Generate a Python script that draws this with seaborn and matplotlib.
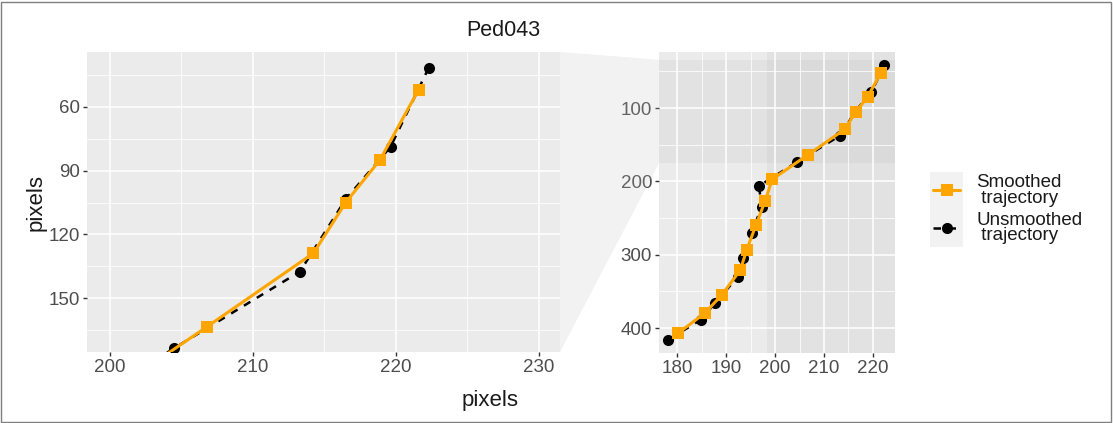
import matplotlib
matplotlib.use("Agg")
import matplotlib.pyplot as plt
from matplotlib.ticker import FixedLocator
from matplotlib.patches import Polygon, Rectangle
from matplotlib.lines import Line2D
import seaborn as sns
import pandas as pd

# ---- data ----
smooth_x = [221.6, 218.9, 216.5, 214.25, 206.8, 199.4, 198.0, 196.1, 194.2, 192.9, 189.1, 185.6, 180.1]
smooth_y = [52.0, 85.0, 105.0, 128.8, 163.4, 197.3, 226.5, 259.6, 293.7, 321.0, 355.0, 380.0, 407.4]
raw_x = [222.3, 219.65, 216.5, 213.3, 204.5, 196.7, 197.3, 195.2, 193.5, 192.4, 187.8, 184.8, 178.2]
raw_y = [41.8, 78.7, 103.5, 137.5, 173.5, 206.4, 234.6, 270.0, 305.0, 330.0, 365.6, 389.0, 415.6]
title = "Ped043"
legend_labels = ["Smoothed\n trajectory", "Unsmoothed\n trajectory"]
zoom_xlim = (198.4, 231.5)
zoom_ylim = (34.2, 175.3)
main_xlim = (176.3, 224.5)
main_ylim = (23.6, 434.0)

smooth = pd.DataFrame({"x": smooth_x, "y": smooth_y})
raw = pd.DataFrame({"x": raw_x, "y": raw_y})

sns.set_theme(style="white")
plt.rcParams["font.family"] = ["Liberation Sans", "DejaVu Sans"]

W, H = 1113, 423
fig = plt.figure(figsize=(W / 100, H / 100), dpi=100)
fig.patch.set_facecolor("white")

def px_axes(l, t, r, b):
    return fig.add_axes([l / W, 1 - b / H, (r - l) / W, (b - t) / H])

ax_z = px_axes(87, 52, 560, 352)
ax_m = px_axes(659, 52, 895, 353)

ORANGE = "#FFA500"
SHADE = (0.745, 0.745, 0.745, 0.2)
MS_SQ = 9
MS_CI = 8

def style_axes(ax, xmaj, xmin, ymaj, ymin, xlim, ylim):
    ax.set_facecolor("#EBEBEB")
    for s in ax.spines.values():
        s.set_visible(False)
    ax.xaxis.set_major_locator(FixedLocator(xmaj))
    ax.xaxis.set_minor_locator(FixedLocator(xmin))
    ax.yaxis.set_major_locator(FixedLocator(ymaj))
    ax.yaxis.set_minor_locator(FixedLocator(ymin))
    ax.grid(which="major", color="white", lw=1.1)
    ax.grid(which="minor", color="white", lw=0.55)
    ax.set_axisbelow(True)
    ax.tick_params(which="major", length=3, width=1, color="#333333",
                   labelsize=13.5, labelcolor="#4D4D4D", pad=2,
                   bottom=True, left=True)
    ax.tick_params(which="minor", length=0)
    ax.set_xlim(*xlim)
    ax.set_ylim(ylim[1], ylim[0])
    ax.set_xlabel("")
    ax.set_ylabel("")

def draw_data(ax):
    sns.lineplot(data=smooth, x="x", y="y", sort=False, ax=ax, color=ORANGE,
                 lw=2.2, marker="s", markersize=MS_SQ, markeredgewidth=0,
                 zorder=3, estimator=None)
    sns.lineplot(data=raw, x="x", y="y", sort=False, ax=ax, color="black",
                 lw=1.8, dashes=False, linestyle=(0, (3, 3)), marker="o",
                 markersize=MS_CI, markeredgewidth=0, zorder=2, estimator=None)

# zoom panel
draw_data(ax_z)
style_axes(ax_z, [200, 210, 220, 230], [205, 215, 225],
           [60, 90, 120, 150], [45, 75, 105, 135, 165], zoom_xlim, zoom_ylim)

# main panel
ax_m.axhspan(zoom_ylim[0], zoom_ylim[1], color=SHADE, lw=0, zorder=0.5)
ax_m.axvspan(zoom_xlim[0], zoom_xlim[1], color=SHADE, lw=0, zorder=0.5)
draw_data(ax_m)
style_axes(ax_m, [180, 190, 200, 210, 220], [185, 195, 205, 215],
           [100, 200, 300, 400], [50, 150, 250, 350], main_xlim, main_ylim)

# zoom connector polygon (figure coordinates)
fig.canvas.draw()
inv = fig.transFigure.inverted()
p_tl = inv.transform(ax_z.transAxes.transform((1, 1)))
p_bl = inv.transform(ax_z.transAxes.transform((1, 0)))
p_tr = inv.transform(ax_m.transData.transform((main_xlim[0], zoom_ylim[0])))
p_br = inv.transform(ax_m.transData.transform((main_xlim[0], zoom_ylim[1])))
fig.patches.append(Polygon([p_tl, p_tr, p_br, p_bl], closed=True,
                           transform=fig.transFigure, facecolor=SHADE,
                           edgecolor="none", zorder=0))

# titles / labels
fig.text(503 / W, 1 - 30 / H, title, ha="center", va="center", fontsize=15.5,
         color="#1A1A1A")
fig.text(490 / W, 1 - 400 / H, "pixels", ha="center", va="center",
         fontsize=16, color="#1A1A1A")
fig.text(36 / W, 1 - 202 / H, "pixels", ha="center", va="center",
         fontsize=16, rotation=90, color="#1A1A1A")

# legend (manual, ggplot-like)
keys = [(172, 209), (209, 247)]
for i, (t, b) in enumerate(keys):
    fig.patches.append(Rectangle((930 / W, 1 - b / H), 33 / W, (b - t) / H,
                                 transform=fig.transFigure, facecolor="#F2F2F2",
                                 edgecolor="none"))
    yc = 1 - (t + b) / 2 / H
    if i == 0:
        fig.add_artist(Line2D([933 / W, 960 / W], [yc, yc], color=ORANGE, lw=2.2,
                              transform=fig.transFigure))
        fig.add_artist(Line2D([946.5 / W], [yc], color=ORANGE, marker="s",
                              markersize=MS_SQ, markeredgewidth=0,
                              transform=fig.transFigure))
    else:
        fig.add_artist(Line2D([933 / W, 960 / W], [yc, yc], color="black", lw=1.8,
                              linestyle=(0, (3, 3)), transform=fig.transFigure))
        fig.add_artist(Line2D([946.5 / W], [yc], color="black", marker="o",
                              markersize=MS_CI, markeredgewidth=0,
                              transform=fig.transFigure))
    fig.text(976 / W, yc, legend_labels[i], ha="left", va="center",
             fontsize=13.5, color="#1A1A1A", linespacing=0.9)

# outer border
fig.patches.append(Rectangle((1 / W, 1 / H), (W - 3) / W, (H - 3) / H,
                             transform=fig.transFigure, facecolor="none",
                             edgecolor="#7F7F7F", lw=1))

fig.savefig("out.png", dpi=100)
